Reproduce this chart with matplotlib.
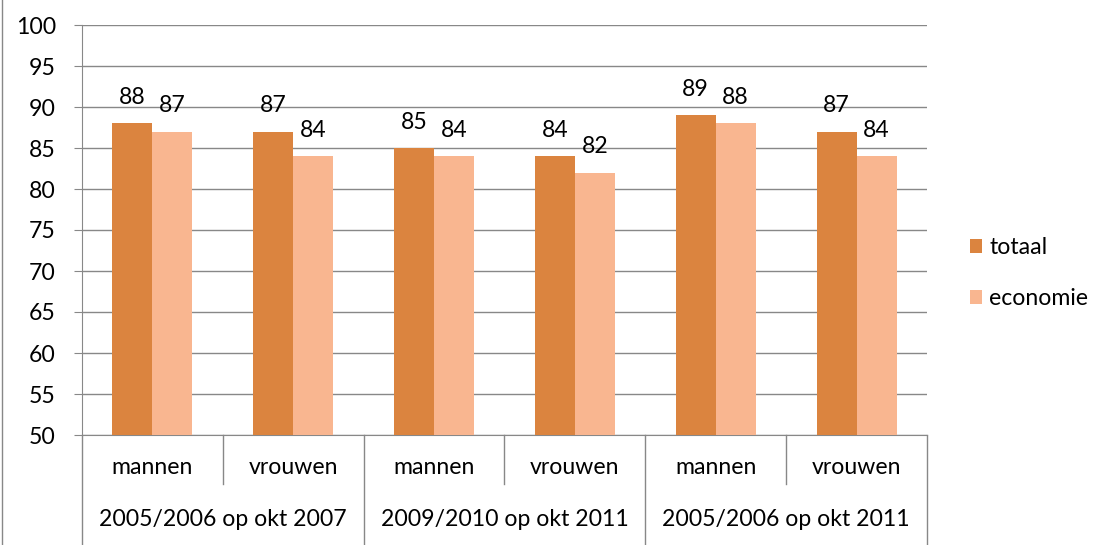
import matplotlib
matplotlib.use('Agg')
import matplotlib.pyplot as plt
from matplotlib.lines import Line2D
import numpy as np

plt.rcParams['font.family'] = ['Lato', 'DejaVu Sans']

sub_labels = ['mannen', 'vrouwen', 'mannen', 'vrouwen', 'mannen', 'vrouwen']
group_labels = ['2005/2006 op okt 2007', '2009/2010 op okt 2011', '2005/2006 op okt 2011']
totaal = [88, 87, 85, 84, 89, 87]
economie = [87, 84, 84, 82, 88, 84]

c_tot = '#DB843F'
c_eco = '#F9B690'
grey = '#888888'
fs = 16.6

fig = plt.figure(figsize=(11.01, 5.45), dpi=100)
ax = fig.add_axes([82 / 1101, 1 - 435 / 545, 845 / 1101, 410 / 545])

x = np.arange(len(sub_labels))
w = 0.284
ax.bar(x - w / 2, np.array(totaal) - 50, w, bottom=50, color=c_tot, label='totaal', zorder=3)
ax.bar(x + w / 2, np.array(economie) - 50, w, bottom=50, color=c_eco, label='economie', zorder=3)

for xi, v in zip(x - w / 2, totaal):
    ax.annotate(str(v), (xi, v), xytext=(0, 11), textcoords='offset points',
                ha='center', va='bottom', fontsize=fs)
for xi, v in zip(x + w / 2, economie):
    ax.annotate(str(v), (xi, v), xytext=(0, 11), textcoords='offset points',
                ha='center', va='bottom', fontsize=fs)

ax.set_xlim(-0.5, len(sub_labels) - 0.5)
ax.set_ylim(50, 100)
ax.set_yticks(np.arange(50, 101, 5))
ax.tick_params(axis='y', labelsize=fs, length=5.8, color=grey, pad=13)
ax.set_xticks([])
ax.grid(axis='y', color=grey, linewidth=1, zorder=0)
for s in ['top', 'right']:
    ax.spines[s].set_visible(False)
ax.spines['left'].set_color(grey)
ax.spines['bottom'].set_color(grey)

# category axis labels, two levels
tr = ax.get_xaxis_transform()
for xi, lab in zip(x, sub_labels):
    ax.text(xi, -(467 - 435) / 410, lab, transform=tr, ha='center', va='center', fontsize=fs)
for gi, lab in enumerate(group_labels):
    ax.text(2 * gi + 0.5, -(520 - 435) / 410, lab, transform=tr, ha='center', va='center', fontsize=fs)

y_low = -(545 - 435) / 410
y_mid = -(484 - 435) / 410
for bx in [-0.5, 1.5, 3.5, 5.5]:
    ax.plot([bx, bx], [0, y_low], transform=tr, color=grey, lw=1, clip_on=False)
for bx in [0.5, 2.5, 4.5]:
    ax.plot([bx, bx], [0, y_mid], transform=tr, color=grey, lw=1, clip_on=False)

# chart border on the left
fig.add_artist(Line2D([2 / 1101, 2 / 1101], [0, 1], color=grey, lw=1))

ax.legend(loc='center left', bbox_to_anchor=(949 / 1101, 1 - 273 / 545),
          bbox_transform=fig.transFigure, frameon=False, fontsize=fs,
          handlelength=0.55, handleheight=0.55, handletextpad=0.3, labelspacing=1.3)

plt.savefig('out.png', dpi=100)
